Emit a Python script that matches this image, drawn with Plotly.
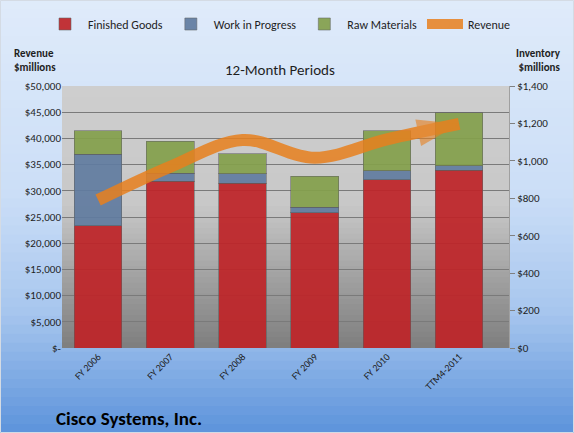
import plotly.graph_objects as go

# data (inventory on the right axis, revenue on the left)
periods = ["FY 2006", "FY 2007", "FY 2008", "FY 2009", "FY 2010", "TTM4-2011"]
finished_goods = [653, 892, 880, 723, 898, 951]
work_in_progress = [382, 42, 51, 29, 48, 23]
raw_materials = [127, 171, 106, 165, 214, 284]
revenue = [28240, 34600, 39700, 36300, 39800, 42750]

rev_ticks = [0, 5000, 10000, 15000, 20000, 25000, 30000, 35000, 40000, 45000, 50000]
rev_ticktext = ["$-", "$5,000", "$10,000", "$15,000", "$20,000", "$25,000",
                "$30,000", "$35,000", "$40,000", "$45,000", "$50,000"]

W, H = 574, 433
ml, mr, mt, mb = 62, 65, 86, 85
pw, ph = W - ml - mr, H - mt - mb
FONT = "Carlito, Lato, sans-serif"


def px_x(x):
    return (x - ml) / pw


def px_y(y):
    return (H - mb - y) / ph


def lerp(stops, t):
    for (t0, c0), (t1, c1) in zip(stops[:-1], stops[1:]):
        if t0 <= t <= t1:
            f = (t - t0) / (t1 - t0) if t1 > t0 else 0
            c = [round(a + (b - a) * f) for a, b in zip(c0, c1)]
            return "rgb(%d,%d,%d)" % tuple(c)
    return "rgb(%d,%d,%d)" % stops[-1][1]


def gradient(x0, x1, y0, y1, stops, n=48):
    out = []
    for i in range(n):
        ya = y0 + (y1 - y0) * i / n
        yb = y0 + (y1 - y0) * (i + 1.3) / n
        out.append(dict(type="rect", xref="paper", yref="paper", layer="below",
                        x0=px_x(x0), x1=px_x(x1), y0=px_y(ya), y1=px_y(min(yb, y1)),
                        fillcolor=lerp(stops, (i + 0.5) / n), line=dict(width=0)))
    return out


bg_stops = [(0, (223, 235, 250)), (0.45, (203, 222, 247)),
            (0.72, (167, 198, 238)), (1, (92, 147, 219))]
plot_stops = [(0, (206, 206, 206)), (0.45, (200, 200, 200)),
              (0.74, (160, 160, 160)), (1, (126, 126, 126))]

shapes = gradient(0, W, 0, H, bg_stops) + gradient(ml, W - mr, mt, H - mb, plot_stops)
shapes.append(dict(type="rect", xref="paper", yref="paper", layer="below",
                   x0=px_x(0.5), x1=px_x(W - 0.5), y0=px_y(0.5), y1=px_y(H - 0.5),
                   line=dict(color="#d4dbe4", width=1)))

fig = go.Figure()

bar_line = dict(color="rgba(90,90,90,0.55)", width=1)
fig.add_trace(go.Bar(x=periods, y=finished_goods, name="Finished Goods",
                     marker=dict(color="#bf2428", line=bar_line), opacity=0.92))
fig.add_trace(go.Bar(x=periods, y=work_in_progress, name="Work in Progress",
                     marker=dict(color="#617ca0", line=bar_line), opacity=0.92))
fig.add_trace(go.Bar(x=periods, y=raw_materials, name="Raw Materials",
                     marker=dict(color="#84a04c", line=bar_line), opacity=0.92))

fig.add_trace(go.Scatter(
    x=periods, y=revenue, name="Revenue", yaxis="y2",
    mode="lines+markers",
    line=dict(color="#e8801e", width=12, shape="spline"),
    marker=dict(symbol=["circle"] * (len(revenue) - 1) + ["arrow"],
                size=[12] + [0] * (len(revenue) - 2) + [44],
                angleref="previous", color="#e8801e", line=dict(width=0)),
    opacity=0.85,
))

fig.update_layout(
    width=W, height=H,
    margin=dict(l=ml, r=mr, t=mt, b=mb, autoexpand=False),
    paper_bgcolor="#dfeafa",
    plot_bgcolor="rgba(0,0,0,0)",
    barmode="stack",
    bargap=0.34,
    font=dict(family=FONT, size=11, color="#1e1e1e"),
    shapes=shapes,
    showlegend=True,
    # legend anchored left of the plot area so it may span up to l + plot width
    legend=dict(orientation="h", x=px_x(42), xanchor="left", y=px_y(24), yanchor="middle",
                font=dict(size=12), bgcolor="rgba(0,0,0,0)",
                itemwidth=36, traceorder="normal"),
    xaxis=dict(tickangle=-45, tickfont=dict(size=10), showgrid=False,
               showline=False, ticks=""),
    yaxis=dict(side="right", range=[0, 1400], dtick=200, tickprefix="$",
               tickformat=",d", showgrid=False, zeroline=False,
               ticks="outside", ticklen=5, tickcolor="#808080",
               showline=True, linecolor="#a0a0a0"),
    yaxis2=dict(overlaying="y", side="left", range=[0, 50000],
                tickvals=rev_ticks, ticktext=rev_ticktext,
                showgrid=True, gridcolor="#7a7a7a", gridwidth=1,
                zeroline=False, showline=False, ticks=""),
    annotations=[
        dict(text="<b>Revenue<br>$millions</b>", xref="paper", yref="paper",
             x=px_x(12), y=px_y(45), xanchor="left", yanchor="top", align="left",
             showarrow=False, font=dict(size=11)),
        dict(text="<b>Inventory<br>$millions</b>", xref="paper", yref="paper",
             x=px_x(563), y=px_y(45), xanchor="right", yanchor="top", align="right",
             showarrow=False, font=dict(size=11)),
        dict(text="12-Month Periods", xref="paper", yref="paper",
             x=px_x(280), y=px_y(70), xanchor="center", yanchor="middle",
             showarrow=False, font=dict(size=15)),
        dict(text="<b>Cisco Systems, Inc.</b>", xref="paper", yref="paper",
             x=px_x(54), y=px_y(418), xanchor="left", yanchor="middle",
             showarrow=False, font=dict(size=19, color="#000000")),
    ],
)

fig.write_html("out.html", config={"displayModeBar": False},
               post_script="document.body.style.margin='0';")
